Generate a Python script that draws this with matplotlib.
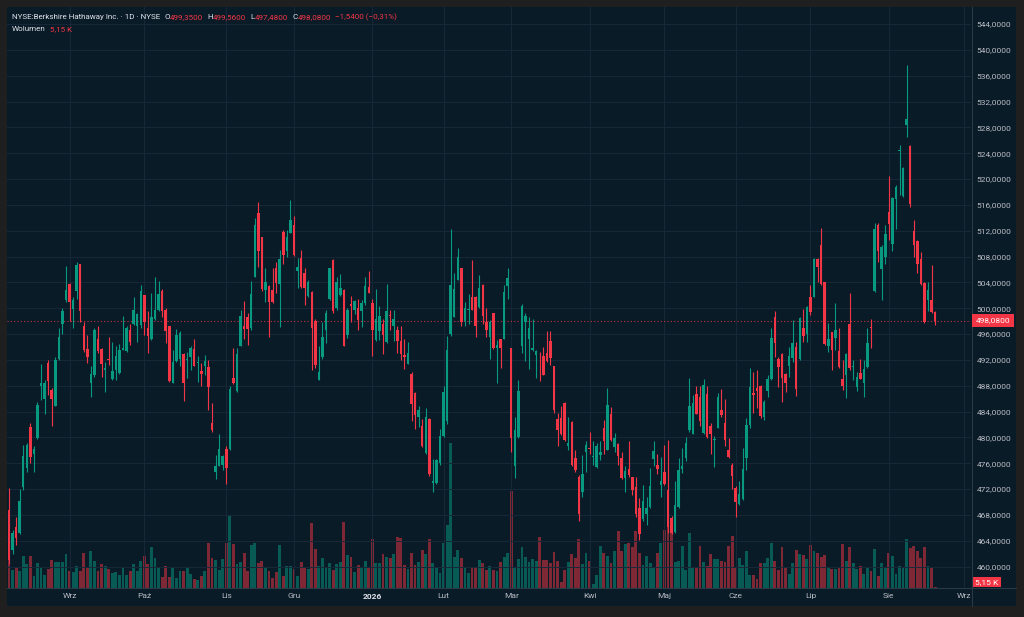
import numpy as np
import pandas as pd
import matplotlib
matplotlib.use("Agg")
import matplotlib.pyplot as plt
from matplotlib.lines import Line2D
from matplotlib.patches import Rectangle
from matplotlib.ticker import FuncFormatter

plt.rcParams["font.family"] = ["Roboto", "DejaVu Sans"]

# daily candles, 7 Aug 2025 .. 20 Aug 2026
opens = [
    468.8, 462.6, 466.1, 465.2, 472.4, 475.2, 481.6, 477.5, 479.9, 488.0,
    485.9, 491.5, 487.3, 484.9, 492.2, 497.6, 501.2, 503.8, 499.9, 502.7,
    506.8, 497.2, 493.7, 488.4, 489.6, 495.3, 493.7, 490.4, 492.2, 489.0,
    490.4, 490.0, 493.6, 493.4, 496.7, 497.5, 497.3, 497.4, 502.1, 496.9,
    495.2, 498.3, 499.8, 502.7, 499.8, 497.2, 488.5, 491.9, 492.1, 492.9,
    492.0, 492.4, 493.7, 491.5, 490.3, 491.0, 490.9, 482.2, 474.6, 475.6,
    475.7, 478.2, 478.2, 489.2, 487.2, 494.2, 497.3, 498.6, 496.9, 504.9,
    514.8, 511.0, 502.8, 503.5, 502.8, 506.3, 503.7, 511.8, 508.9, 511.7,
    512.9, 505.8, 507.8, 505.4, 501.9, 502.5, 498.0, 488.9, 492.4, 496.7,
    501.5, 507.5, 500.1, 502.1, 502.8, 495.8, 500.6, 499.8, 500.1, 499.6,
    500.8, 503.3, 500.8, 495.1, 496.5, 497.5, 494.7, 499.0, 497.2, 496.7,
    494.9, 492.8, 491.4, 489.8, 486.9, 483.2, 481.8, 477.6, 482.9, 472.9,
    473.0, 476.0, 480.2, 482.6, 496.0, 498.7, 504.4, 506.2, 498.0, 499.7,
    501.8, 501.8, 500.2, 503.6, 497.8, 495.6, 499.2, 493.8, 495.2, 495.3,
    503.5, 493.8, 475.5, 480.0, 494.2, 497.8, 495.2, 493.6, 492.7, 491.7,
    492.6, 493.0, 494.9, 491.0, 482.9, 483.0, 485.4, 478.7, 482.4, 476.8,
    473.9, 471.5, 477.8, 478.4, 476.9, 475.4, 477.3, 481.5, 478.1, 483.7,
    478.5, 479.0, 476.8, 473.7, 475.1, 473.8, 472.3, 469.1, 467.3, 468.1,
    469.2, 476.7, 475.7, 472.6, 474.6, 471.9, 467.6, 465.4, 469.3, 475.1,
    476.8, 481.2, 480.6, 486.7, 486.3, 480.7, 486.7, 481.8, 479.6, 481.5,
    484.3, 482.3, 478.1, 475.8, 472.1, 469.7, 470.4, 476.8, 481.9, 486.9,
    487.7, 488.0, 483.2, 487.2, 489.0, 498.6, 492.1, 492.9, 489.8, 491.1,
    492.3, 494.0, 492.1, 496.9, 496.0, 501.7, 501.7, 507.6, 509.8, 504.1,
    494.2, 496.3, 495.4, 493.4, 489.0, 489.7, 497.6, 490.9, 487.8, 490.0,
    488.4, 490.9, 497.1, 502.7, 512.9, 506.1, 507.9, 514.9, 509.9, 516.9,
    524.4, 517.4, 528.4, 525.1, 512.0, 510.4, 507.6, 503.9, 501.3, 501.3,
    499.35,
]
highs = [
    472.2, 465.6, 467.7, 472.0, 478.9, 479.1, 482.2, 478.6, 485.5, 491.4,
    488.9, 492.0, 487.6, 492.4, 496.9, 500.0, 506.5, 503.9, 501.8, 507.1,
    506.8, 497.9, 495.9, 491.0, 496.9, 497.3, 493.8, 491.6, 495.5, 494.7,
    494.2, 494.5, 498.8, 497.2, 497.5, 501.8, 499.2, 503.6, 502.1, 499.5,
    502.3, 504.8, 504.2, 503.0, 500.0, 497.3, 493.5, 496.8, 496.4, 493.0,
    493.3, 494.1, 495.3, 492.6, 491.5, 492.8, 492.0, 485.4, 477.3, 480.6,
    477.3, 478.6, 487.9, 493.8, 493.8, 499.7, 501.1, 499.2, 504.2, 513.9,
    516.4, 511.1, 506.3, 503.6, 506.2, 507.2, 509.0, 512.1, 512.1, 516.8,
    514.2, 507.7, 509.0, 506.2, 504.4, 502.6, 498.4, 494.1, 497.9, 499.7,
    506.3, 507.6, 504.8, 505.3, 502.9, 500.0, 501.9, 501.3, 501.4, 501.3,
    504.9, 505.8, 501.5, 502.9, 500.4, 498.4, 503.8, 499.8, 499.8, 497.2,
    497.3, 495.2, 494.8, 490.2, 487.1, 484.8, 482.8, 484.6, 483.0, 476.6,
    476.6, 481.3, 487.9, 495.7, 512.2, 505.5, 509.3, 506.3, 500.9, 502.2,
    507.4, 501.9, 505.1, 503.7, 500.1, 498.2, 499.3, 495.1, 495.3, 503.6,
    506.2, 493.9, 483.2, 488.9, 500.6, 499.2, 498.6, 498.3, 493.5, 493.2,
    494.0, 496.4, 496.5, 491.1, 483.8, 484.9, 485.5, 483.2, 482.6, 478.0,
    474.2, 477.3, 479.4, 480.8, 479.4, 479.2, 479.5, 482.7, 487.6, 484.7,
    480.7, 479.1, 477.7, 475.6, 479.4, 473.9, 473.8, 470.6, 472.6, 470.8,
    475.2, 479.5, 477.5, 476.9, 478.8, 479.6, 467.8, 473.3, 476.8, 478.3,
    480.1, 489.2, 486.5, 488.0, 488.0, 489.0, 487.9, 482.2, 480.2, 486.8,
    487.5, 486.0, 479.9, 476.1, 472.5, 473.3, 478.3, 483.0, 490.8, 490.1,
    490.4, 488.1, 485.8, 489.7, 496.9, 499.6, 492.5, 493.1, 490.0, 494.0,
    498.2, 494.8, 498.6, 499.9, 500.4, 503.6, 507.8, 507.8, 512.4, 504.1,
    497.7, 496.3, 500.8, 496.9, 492.0, 493.1, 502.4, 492.0, 490.1, 492.1,
    492.0, 496.9, 498.3, 513.2, 513.2, 509.8, 512.9, 520.5, 517.2, 519.1,
    525.3, 521.9, 537.7, 525.3, 513.7, 510.6, 508.7, 504.1, 504.1, 506.7,
    499.56,
]
lows = [
    460.4, 462.0, 463.4, 465.0, 471.8, 474.6, 476.1, 474.6, 479.7, 485.8,
    483.6, 486.6, 481.7, 484.8, 492.0, 496.0, 501.0, 498.0, 496.9, 501.4,
    497.9, 493.3, 491.5, 486.3, 489.4, 493.0, 489.4, 487.1, 491.2, 488.9,
    488.9, 489.8, 493.5, 493.3, 494.3, 497.4, 494.8, 496.9, 495.9, 493.0,
    495.1, 498.2, 499.6, 498.7, 494.6, 488.6, 488.4, 491.7, 491.0, 485.7,
    489.2, 490.4, 491.0, 488.6, 488.0, 489.7, 484.3, 480.9, 473.5, 475.5,
    475.0, 472.8, 478.1, 488.3, 487.1, 494.1, 495.2, 494.3, 496.7, 504.8,
    506.4, 502.7, 500.9, 495.6, 500.8, 502.3, 497.1, 506.8, 508.0, 511.6,
    508.1, 503.1, 503.2, 500.5, 501.8, 490.4, 490.7, 488.9, 492.2, 494.6,
    501.3, 499.3, 499.7, 501.9, 494.1, 495.4, 497.9, 499.1, 496.6, 497.1,
    500.5, 502.3, 492.6, 494.9, 495.1, 492.9, 494.6, 496.6, 494.9, 493.1,
    492.0, 490.6, 491.3, 482.6, 481.3, 481.6, 478.5, 477.4, 474.1, 471.6,
    472.8, 475.8, 480.1, 482.1, 495.7, 498.6, 504.3, 497.2, 497.2, 497.6,
    499.7, 495.5, 500.1, 497.6, 495.6, 492.2, 493.7, 488.4, 490.8, 495.2,
    501.5, 477.7, 473.7, 479.9, 493.0, 491.9, 490.6, 493.4, 489.2, 488.8,
    489.6, 491.7, 491.2, 483.8, 478.6, 480.4, 479.5, 478.1, 475.5, 474.7,
    467.0, 470.8, 474.7, 477.4, 475.7, 475.3, 476.5, 477.5, 478.0, 479.5,
    477.8, 475.7, 473.5, 471.6, 473.9, 471.1, 467.7, 464.1, 467.0, 466.5,
    469.1, 475.5, 474.4, 470.7, 472.6, 465.2, 465.1, 465.2, 469.1, 474.5,
    476.3, 480.9, 480.5, 483.6, 481.8, 480.6, 479.9, 477.4, 475.4, 481.4,
    483.2, 478.7, 476.8, 472.0, 467.7, 469.6, 470.3, 475.0, 481.5, 483.8,
    484.6, 483.0, 482.7, 486.3, 488.9, 492.5, 487.8, 485.5, 487.0, 489.4,
    491.7, 486.4, 492.0, 494.8, 494.8, 499.0, 501.7, 504.1, 503.6, 494.3,
    493.2, 490.4, 493.5, 490.8, 487.3, 486.1, 490.4, 488.9, 487.2, 489.0,
    486.3, 490.8, 493.8, 502.5, 507.2, 501.3, 506.9, 510.6, 508.9, 512.3,
    517.5, 517.2, 526.5, 515.7, 507.9, 505.5, 503.6, 497.7, 499.6, 499.3,
    497.48,
]
closes = [
    461.0, 465.2, 464.4, 470.1, 477.1, 478.8, 476.9, 478.2, 485.0, 488.4,
    488.4, 488.7, 485.9, 492.0, 495.5, 499.6, 502.8, 500.9, 501.3, 506.7,
    499.6, 493.5, 492.5, 489.8, 496.6, 493.4, 491.3, 490.7, 492.0, 490.3,
    492.6, 493.5, 493.8, 496.9, 494.7, 499.8, 499.1, 502.6, 497.9, 495.7,
    498.6, 499.8, 502.2, 499.6, 496.5, 488.8, 491.7, 495.9, 496.2, 488.5,
    492.1, 493.8, 491.1, 491.7, 489.8, 491.9, 487.8, 481.1, 475.5, 478.2,
    477.1, 475.3, 487.5, 488.5, 492.9, 498.8, 496.8, 496.8, 502.2, 512.9,
    508.8, 503.0, 504.1, 501.0, 500.9, 503.9, 507.6, 508.3, 511.0, 513.7,
    508.3, 506.4, 503.3, 503.1, 504.1, 497.0, 491.2, 490.2, 495.6, 499.3,
    506.2, 499.6, 504.0, 503.2, 494.2, 499.7, 500.3, 501.1, 498.1, 500.8,
    503.5, 502.4, 496.6, 498.3, 498.8, 495.9, 499.6, 498.8, 498.4, 495.0,
    492.9, 492.4, 493.1, 485.1, 483.5, 484.3, 478.6, 483.2, 474.3, 473.2,
    476.5, 480.2, 487.1, 493.5, 503.6, 502.9, 508.0, 497.8, 500.1, 499.9,
    499.8, 497.3, 503.2, 498.8, 496.6, 497.9, 493.8, 494.3, 493.8, 502.5,
    504.7, 479.9, 481.1, 487.2, 500.3, 498.8, 497.0, 493.9, 493.4, 491.6,
    489.7, 491.9, 492.3, 484.2, 481.2, 480.6, 479.6, 479.1, 475.8, 474.9,
    468.2, 474.3, 478.9, 478.2, 477.0, 478.7, 477.8, 479.5, 485.0, 479.6,
    479.9, 477.2, 473.7, 474.8, 474.2, 471.8, 468.1, 465.0, 470.1, 469.0,
    472.5, 477.9, 475.1, 473.3, 472.8, 466.2, 465.2, 469.6, 474.9, 475.6,
    479.2, 484.8, 485.3, 483.7, 482.5, 488.1, 480.1, 480.5, 479.7, 486.2,
    483.4, 479.6, 477.0, 474.1, 470.0, 471.2, 475.1, 481.9, 487.8, 486.6,
    487.2, 483.3, 485.5, 489.0, 495.4, 494.6, 490.9, 489.2, 488.4, 492.6,
    494.6, 487.5, 498.5, 495.7, 500.2, 499.4, 507.6, 506.4, 503.8, 494.5,
    495.2, 493.5, 496.6, 490.9, 488.0, 492.9, 490.8, 491.1, 489.4, 489.0,
    490.6, 494.6, 496.9, 512.3, 508.9, 509.5, 511.5, 513.0, 517.1, 518.8,
    524.5, 521.7, 529.3, 516.1, 509.8, 506.9, 503.8, 497.9, 502.8, 499.4,
    498.08,
]
# volume in thousands of shares
volumes = [
    180, 72, 80, 68, 128, 96, 128, 48, 100, 84,
    52, 76, 112, 104, 104, 104, 136, 68, 64, 88,
    68, 140, 80, 148, 108, 68, 96, 88, 76, 60,
    64, 52, 80, 52, 68, 96, 68, 108, 128, 96,
    164, 120, 84, 44, 88, 44, 80, 40, 68, 68,
    84, 56, 36, 32, 48, 68, 180, 120, 112, 72,
    116, 180, 292, 176, 96, 104, 140, 68, 172, 180,
    100, 108, 84, 68, 40, 64, 172, 48, 88, 88,
    76, 48, 104, 84, 76, 260, 156, 88, 120, 80,
    100, 72, 96, 104, 264, 132, 124, 64, 92, 84,
    108, 80, 196, 100, 100, 136, 124, 120, 136, 204,
    200, 92, 76, 140, 92, 104, 152, 136, 196, 100,
    80, 60, 180, 252, 580, 124, 152, 120, 80, 60,
    84, 84, 112, 100, 72, 88, 72, 68, 104, 124,
    140, 388, 80, 116, 164, 124, 104, 116, 108, 204,
    112, 112, 100, 144, 108, 24, 72, 104, 136, 120,
    196, 96, 140, 108, 16, 52, 168, 140, 128, 100,
    148, 228, 148, 176, 180, 164, 228, 140, 92, 128,
    100, 84, 140, 180, 232, 268, 256, 104, 108, 168,
    72, 220, 80, 80, 168, 104, 88, 136, 116, 116,
    108, 104, 168, 208, 84, 120, 92, 148, 52, 52,
    36, 100, 100, 120, 180, 108, 72, 164, 84, 56,
    100, 152, 136, 132, 116, 172, 148, 140, 124, 132,
    84, 76, 76, 80, 176, 108, 164, 100, 76, 88,
    56, 80, 68, 156, 48, 100, 84, 140, 128, 56,
    88, 80, 196, 160, 168, 148, 120, 164, 88, 84,
    5.15,
]
change = -1.54
change_pct = -0.31

holidays = ["2025-09-01", "2025-11-27", "2025-12-25", "2026-01-01", "2026-01-19",
            "2026-02-16", "2026-04-03", "2026-05-25", "2026-06-19", "2026-07-03"]
month_names = {1: "Sty", 2: "Lut", 3: "Mar", 4: "Kwi", 5: "Maj", 6: "Cze",
               7: "Lip", 8: "Sie", 9: "Wrz", 10: "Paź", 11: "Lis", 12: "Gru"}
price_ticks = np.arange(460, 545, 4)

BG = "#0a1b28"
OUTER = "#1f1f1f"
GRID = "#172838"
SEP = "#2a3946"
TXT = "#b8bbc4"
UP = "#089981"
DOWN = "#f23645"
FS = 6.0
HFS = 5.75

W, H = 1024, 617


def fx(px):
    return px / W


def fy(py):
    return 1 - py / H


def fmt(val):
    return f"{val:.4f}".replace(".", ",").replace("-", "−")


o = np.array(opens)
h = np.array(highs)
l = np.array(lows)
c = np.array(closes)
v = np.array(volumes)
n = len(c)
x = np.arange(n)
up = c >= o
cols = np.where(up, UP, DOWN)

# trading calendar for the month labels
bday = pd.offsets.CustomBusinessDay(holidays=holidays)
dates = pd.date_range("2025-08-07", periods=n + 15, freq=bday)
tick_idx, tick_lab = [], []
for i in range(1, len(dates)):
    if dates[i].month != dates[i - 1].month:
        tick_idx.append(i)
        d = dates[i]
        tick_lab.append(str(d.year) if d.month == 1 else month_names[d.month])

fig = plt.figure(figsize=(W / 100, H / 100), dpi=100, facecolor=OUTER)
fig.patches.append(Rectangle((fx(7), fy(606)), (1016 - 7) / W, (606 - 7) / H,
                             transform=fig.transFigure, facecolor=BG,
                             edgecolor="none", zorder=0))

rect = [fx(7), fy(588), (971 - 7) / W, (588 - 7) / H]
vax = fig.add_axes(rect, zorder=1)
ax = fig.add_axes(rect, zorder=2)
for a in (ax, vax):
    a.set_facecolor("none")
    for s in a.spines.values():
        s.set_visible(False)

# volume
vax.bar(x, v, width=0.8, color=cols, alpha=0.5, linewidth=0)
vax.set_ylim(0, v.max() / 0.25)
vax.set_xlim(-0.56, 270.07)
vax.set_xticks([])
vax.set_yticks([])

# candles
ax.vlines(x, l, h, colors=cols, linewidth=0.8, zorder=3)
body_lo = np.minimum(o, c)
body_h = np.maximum(np.abs(c - o), 0.15)
ax.bar(x, body_h, bottom=body_lo, width=0.7, color=cols, linewidth=0, zorder=4)

ax.set_xlim(-0.56, 270.07)
ax.set_ylim(456.69, 546.63)

ax.axhline(c[-1], color=DOWN, linestyle=(0, (1, 2)), linewidth=0.8, alpha=0.8, zorder=2)

ax.yaxis.tick_right()
ax.set_yticks(price_ticks)
ax.yaxis.set_major_formatter(FuncFormatter(lambda val, pos: fmt(val)))
ax.set_xticks(tick_idx)
ax.set_xticklabels(tick_lab)
ax.tick_params(axis="y", length=0, pad=4.2, labelsize=FS, labelcolor=TXT)
ax.tick_params(axis="x", length=0, pad=3.8, labelsize=FS, labelcolor=TXT)
for lbl in ax.get_xticklabels():
    if lbl.get_text().isdigit():
        lbl.set_fontweight("bold")
        lbl.set_color("#e0e3eb")
ax.grid(color=GRID, linewidth=0.7)
ax.set_axisbelow(True)

# last price / last volume labels
vol_txt = f"{v[-1]:.2f}".replace(".", ",") + " K"
ax.annotate(fmt(c[-1]), xy=(1, c[-1]), xycoords=("axes fraction", "data"),
            xytext=(3.6, 0), textcoords="offset points", ha="left", va="center",
            color="white", fontsize=FS,
            bbox=dict(boxstyle="square,pad=0.45", fc=DOWN, ec="none"))
vax.annotate(vol_txt, xy=(1, v[-1]), xycoords=("axes fraction", "data"),
             xytext=(3.0, 3.6), textcoords="offset points", ha="left", va="center",
             color="white", fontsize=FS,
             bbox=dict(boxstyle="square,pad=0.25", fc=DOWN, ec="none"))

# separators
fig.add_artist(Line2D([fx(971.5), fx(971.5)], [fy(7), fy(606)],
                      transform=fig.transFigure, color=SEP, linewidth=0.8))
fig.add_artist(Line2D([fx(7), fx(1016)], [fy(587.8), fy(587.8)],
                      transform=fig.transFigure, color=SEP, linewidth=0.8))

# legend rows at top left
renderer = fig.canvas.get_renderer()


def put_row(pieces, x0, y0):
    xp = x0
    for s, col, gap in pieces:
        t = fig.text(fx(xp), fy(y0), s, color=col, fontsize=HFS, ha="left", va="center")
        bb = t.get_window_extent(renderer)
        xp = bb.x1 + gap


LBL = "#dfe2ea"
chg_txt = fmt(change) + " (" + f"{change_pct:.2f}".replace(".", ",").replace("-", "−") + "%)"
put_row([
    ("NYSE:Berkshire Hathaway Inc. · 1D · NYSE", LBL, 4),
    ("O", LBL, 0.3), (fmt(o[-1]), DOWN, 4),
    ("H", LBL, 0.3), (fmt(h[-1]), DOWN, 4),
    ("L", LBL, 0.3), (fmt(l[-1]), DOWN, 4),
    ("C", LBL, 0.3), (fmt(c[-1]), DOWN, 4),
    (chg_txt, DOWN, 0),
], 12, 17)
put_row([("Wolumen", LBL, 4), (vol_txt, DOWN, 0)], 12, 29)

fig.savefig("out.png", dpi=100, facecolor=OUTER)
